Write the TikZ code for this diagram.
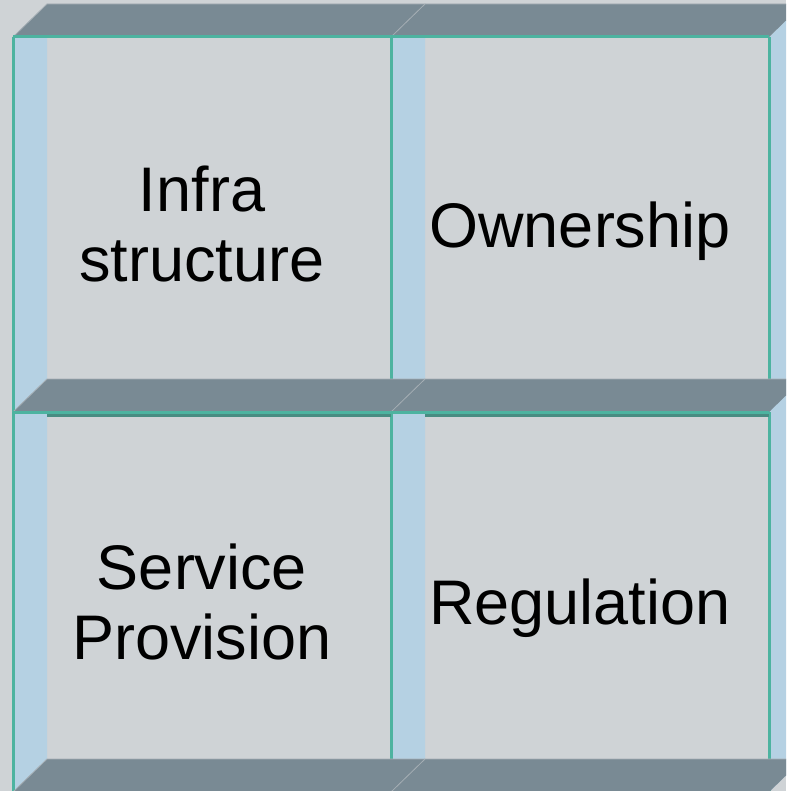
\documentclass[tikz,border=0pt]{standalone}
\usepackage{fontspec}
\setsansfont{Liberation Sans}
\usepackage{xcolor}

\definecolor{facegray}{RGB}{207,211,214}
\definecolor{barslate}{RGB}{121,138,148}
\definecolor{wallblue}{RGB}{181,209,227}
\definecolor{edgeteal}{RGB}{77,179,160}
\definecolor{edgedark}{RGB}{72,140,130}
\definecolor{seamgray}{RGB}{165,174,180}

\begin{document}
\begin{tikzpicture}[x=0.5pt,y=-0.5pt,
  every node/.style={font=\sffamily\fontsize{31.5}{35}\selectfont,align=center},
  oneline/.style={text depth=0pt},
  wall/.style={fill=wallblue}, roof/.style={fill=barslate},
  rim/.style={draw=edgeteal,line width=1.5pt},
  ledge/.style={draw=edgedark,line width=1.5pt},
  seam/.style={draw=seamgray,line width=0.4pt}]
\useasboundingbox (0,0) rectangle (786,791);
\clip (0,0) rectangle (786,791);
\fill[facegray] (0,0) rectangle (786,791);
% side walls with their front edge
\foreach \x in {13,391,769}
  \foreach \y/\ny in {37/412,412/792}{
    \fill[wall] (\x,\y) -- ++(34,-33) -- (\x+34,\ny-33) -- (\x,\ny) -- cycle;
    \draw[rim] (\x,\y) -- (\x,\ny);
  }
% roof bars on top of each row
\foreach \y in {37,412,792}
  \foreach \x/\nx in {13/391,391/769}{
    \fill[roof] (\x,\y) -- ++(34,-33) -- (\nx+34,\y-33) -- (\nx,\y) -- cycle;
    \draw[seam] (\x,\y) -- ++(34,-33) -- (\nx+34,\y-33);
    \draw[rim] (\x,\y) -- (\nx,\y);
  }
\foreach \x/\nx in {13/391,391/769}
  \draw[ledge] (\x+34,415.5) -- (\nx,415.5);
\node (infra) at (202,224.5) {Infra\\structure};
\node[oneline] (owner) at (580,224.5) {Ownership};
\node (service) at (202,602) {Service\\Provision};
\node[oneline] (regul) at (580,602) {Regulation};
\end{tikzpicture}
\end{document}
